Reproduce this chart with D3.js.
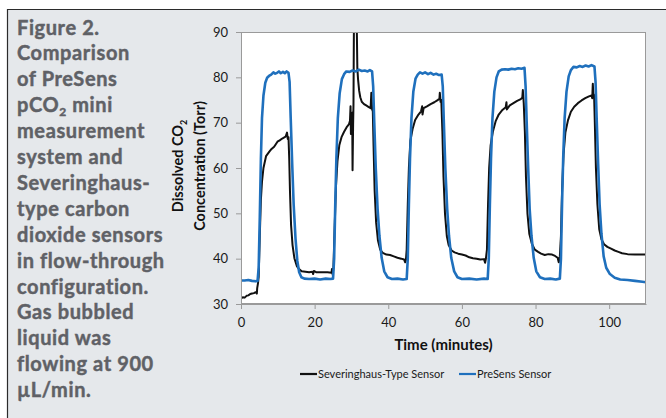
<!DOCTYPE html>
<html>
<head>
<meta charset="utf-8">
<script src="https://cdn.jsdelivr.net/npm/d3@7"></script>
<style>
  html, body { margin: 0; padding: 0; background: #fff; }
  svg { display: block; }
</style>
</head>
<body>
<svg id="chart" width="666" height="418"></svg>
<script>
// Values: [time (min), CO2 (Torr)]
const severinghaus = [
  [0,31.2],[0.5,31.5],[1,31.4],[1.5,31.8],[2,31.9],[2.5,32.2],[3,32.3],[3.5,32.4],[4,32.6],[4.3,32.3],[4.4,33.5],[4.6,34.5],
  [4.8,36],[5.1,45],[5.4,53],[5.7,57],[6.1,60],[6.8,62.6],[7.7,63.6],[8.3,64.2],[9,64.7],[9.9,65.8],[10.5,66.1],[11.2,66.5],[12.1,66.9],[12.5,67.8],[12.7,66.4],[12.9,66.8],
  [13.1,62],[13.3,55],[13.6,47.4],[14,43],[14.5,40.1],[15.2,38.3],[15.9,37.6],[16.5,37.2],[17.5,37.1],[18.5,37.0],[19.4,37.1],[19.6,36.6],[19.8,37.3],[20.5,37.0],[22,37.0],[23.5,37.0],[24.6,36.9],[24.7,37.7],[24.9,36.5],
  [25.1,38],[25.4,46],[25.8,56],[26.2,61.5],[26.7,65],[27.3,66.8],[28,68],[28.7,69],[29.3,69.6],[29.6,70.4],[29.75,73.6],[29.85,67.5],[30.0,70],[30.2,72.2],[30.3,59.5],[30.45,69.5],[30.55,74],[30.7,96],[31.0,99],[31.35,97],[31.6,82],[31.8,79.5],
  [32.1,77],[32.4,75.6],[32.8,74.6],[33.4,74.1],[34,73.8],[34.6,73.5],[35.2,73.2],[35.4,76.6],[35.6,73],[35.8,72.5],
  [36.0,65],[36.3,55],[36.7,48],[37.2,44],[37.8,42],[38.5,41.3],[39.5,40.9],[40.5,40.8],[41.5,40.5],[42.5,40.2],[43.5,40.0],[44.3,39.8],[44.6,39.2],[44.8,39.8],
  [45.0,42],[45.3,52],[45.6,60],[46.0,66],[46.6,68.6],[47.3,70.6],[48.2,71.8],[48.9,72.5],[49.2,73.6],[49.3,71.8],[49.6,73.2],[50.5,73.6],[51.5,74.1],[52.5,74.5],[53.3,74.9],[53.9,75.3],[54.0,76.6],[54.2,74.6],[54.4,75],
  [54.7,68],[55.0,58],[55.4,50],[55.9,45],[56.4,43],[57.2,41.8],[58,41.4],[59,41.1],[60,40.9],[61,40.7],[62,40.3],[63,40.1],[64,40.0],[65,39.8],[66,39.9],[66.3,39.1],[66.5,39.9],
  [66.8,42],[67.1,52],[67.4,60],[67.8,65],[68.4,68],[69.2,70.4],[70,71.8],[71,72.8],[71.9,73.4],[72.1,74.5],[72.2,72.9],[73,73.8],[74,74.3],[75,74.8],[76,75.2],[76.4,75.5],[76.55,77.2],[76.8,74.2],
  [77.1,68],[77.4,58],[77.8,50],[78.3,45.5],[79,43.3],[79.8,42],[80.7,41.5],[81.5,41.1],[82.5,40.8],[83.5,41.0],[84.5,40.9],[85.3,40.6],[86.0,40.2],[86.3,39.2],[86.6,40.5],
  [86.9,45],[87.2,55],[87.6,63],[88.1,67.8],[88.8,70.5],[89.6,72.4],[90.5,73.5],[91.5,74.3],[92.5,74.9],[93.5,75.4],[94.5,75.8],[95.2,76.0],[95.4,75.4],[95.55,78.6],[95.7,76.4],[95.9,76.1],
  [96.1,70],[96.4,60],[96.8,52],[97.3,46.5],[97.9,44.3],[98.6,43.2],[99.5,42.6],[100.5,42.2],[101.5,41.8],[102.5,41.5],[103.5,41.2],[105,41.0],[107,40.9],[109,40.9],[110,40.9]
];

const presens = [
  [0,35.2],[1,35.2],[2,35.3],[3,35.1],[4,35.0],[4.5,35.1],
  [4.8,38],[5.1,49],[5.4,62],[5.7,71],[6.1,76],[6.6,78.8],[7.1,79.9],[7.6,80.3],[8.2,80.6],[8.8,81.1],[9.3,80.8],[9.8,81.0],[10.3,81.3],[10.8,80.9],[11.4,81.2],[11.9,80.9],[12.4,81.3],[12.9,81.0],
  [13.2,79],[13.5,71],[13.9,61],[14.3,52],[14.8,44.5],[15.3,39.5],[15.8,37.0],[16.4,35.9],[17.2,35.6],[18.5,35.5],[20,35.6],[21.5,35.4],[23,35.6],[24.3,35.5],[25.0,35.6],
  [25.3,40],[25.6,52],[25.9,62],[26.3,71],[26.8,76.5],[27.4,79.6],[28.0,80.7],[28.6,81.3],[29.5,81.2],[30.3,81.5],[31.2,81.3],[32,81.7],[32.8,81.4],[33.6,81.5],[34.4,81.3],[35.0,81.6],[35.6,81.3],
  [35.9,78],[36.2,70],[36.6,60],[37.1,51],[37.6,45],[38.2,40.2],[38.9,37.2],[39.8,35.9],[41,35.5],[42.5,35.6],[44,35.4],[45.0,35.5],
  [45.3,40],[45.6,52],[45.9,62],[46.3,71],[46.8,76.8],[47.4,79.7],[48.0,80.6],[48.6,81.1],[49.3,80.8],[50,81.1],[50.8,80.7],[51.5,81.0],[52.3,80.6],[53,80.8],[53.8,80.5],[54.5,80.6],
  [54.8,78],[55.1,70],[55.5,60],[56.0,51],[56.5,45],[57.1,40.2],[57.9,37.2],[58.8,35.9],[60,35.5],[62,35.6],[64,35.4],[66,35.6],[67.0,35.5],
  [67.3,40],[67.6,52],[67.9,62],[68.3,71],[68.8,76.8],[69.4,80.0],[70.0,81.3],[70.8,81.7],[71.7,81.8],[72.6,81.7],[73.5,81.9],[74.4,81.8],[75.3,82.0],[76.2,81.9],[77.0,82.1],
  [77.3,78],[77.6,70],[78,60],[78.4,51],[78.9,45],[79.5,40.2],[80.2,37.2],[81.2,35.9],[82.5,35.5],[84,35.6],[85.5,35.4],[86.6,35.6],
  [86.9,40],[87.2,52],[87.5,62],[87.9,71],[88.4,76.8],[89.0,80.2],[89.6,81.6],[90.3,82.3],[91.2,82.2],[92,82.5],[92.8,82.3],[93.6,82.6],[94.4,82.4],[95.2,82.7],[96.0,82.4],
  [96.3,79],[96.6,71],[97,61],[97.4,52],[97.9,45.5],[98.5,40.5],[99.2,38],[100.2,36.6],[101.5,35.8],[103,35.4],[105,35.3],[107,35.1],[109,34.9],[110,34.8]
];

const xTicks = [0, 20, 40, 60, 80, 100];
const yTicks = [30, 40, 50, 60, 70, 80, 90];
const seriesNames = ["Severinghaus-Type Sensor", "PreSens Sensor"];
const seriesColors = ["#111111", "#1f70bd"];

// caption lines, "_2" marks a subscript 2
const caption = [
  "Figure 2.", "Comparison", "of PreSens", "pCO_2 mini", "measurement", "system and",
  "Severinghaus-", "type carbon", "dioxide sensors", "in flow-through",
  "configuration.", "Gas bubbled", "liquid was", "flowing at 900", "µL/min."
];

const svg = d3.select("#chart");
const W = 666, H = 418;
const plot = {left: 241, right: 646, top: 32, bottom: 304};

// figure panel background + borders
svg.append("rect").attr("x", 7).attr("y", 9).attr("width", W - 7).attr("height", H - 9).attr("fill", "#e5e8eb");
svg.append("line").attr("x1", 7).attr("x2", W).attr("y1", 9.5).attr("y2", 9.5).attr("stroke", "#2b2b2b").attr("stroke-width", 1.2);
svg.append("line").attr("x1", 7.5).attr("x2", 7.5).attr("y1", 9).attr("y2", H).attr("stroke", "#2b2b2b").attr("stroke-width", 1.2);

// caption text (stroke thickens it a bit, the original face is heavier)
const cap = svg.append("text")
  .attr("font-family", "Lato, 'Open Sans', sans-serif")
  .attr("font-weight", 700)
  .attr("font-size", 20)
  .attr("letter-spacing", 0.6)
  .attr("fill", "#5f6166")
  .attr("stroke", "#5f6166")
  .attr("stroke-width", 0.45);
caption.forEach((line, i) => {
  const t = cap.append("tspan").attr("x", 17).attr("y", 34.5 + i * 25.9);
  const parts = line.split("_2");
  if (parts.length > 1) {
    t.text(parts[0]);
    cap.append("tspan").attr("dy", 4).attr("font-size", 12).text("2");
    cap.append("tspan").attr("dy", -4).text(parts[1]);
  } else {
    t.text(line);
  }
});

// plot area
svg.append("rect")
  .attr("x", plot.left).attr("y", plot.top)
  .attr("width", plot.right - plot.left).attr("height", plot.bottom - plot.top)
  .attr("fill", "#fff");

const x = d3.scaleLinear().domain([0, 110]).range([plot.left, plot.right]);
const y = d3.scaleLinear().domain([30, 90]).range([plot.bottom, plot.top]);

svg.append("clipPath").attr("id", "clip")
  .append("rect")
  .attr("x", plot.left).attr("y", plot.top)
  .attr("width", plot.right - plot.left).attr("height", plot.bottom - plot.top);

const line = d3.line().x(d => x(d[0])).y(d => y(d[1]));

const g = svg.append("g").attr("clip-path", "url(#clip)");
g.append("path").datum(severinghaus)
  .attr("d", line).attr("fill", "none")
  .attr("stroke", seriesColors[0]).attr("stroke-width", 2).attr("stroke-linejoin", "round");
g.append("path").datum(presens)
  .attr("d", line).attr("fill", "none")
  .attr("stroke", seriesColors[1]).attr("stroke-width", 2.6).attr("stroke-linejoin", "round");

// frame
svg.append("rect")
  .attr("x", plot.left + 0.5).attr("y", plot.top + 0.5)
  .attr("width", plot.right - plot.left - 1).attr("height", plot.bottom - plot.top - 1)
  .attr("fill", "none").attr("stroke", "#9a9a9a");

// axes
const yAxis = svg.append("g")
  .attr("transform", `translate(${plot.left},0)`)
  .call(d3.axisLeft(y).tickValues(yTicks).tickSize(5).tickSizeOuter(0).tickPadding(8));
const xAxis = svg.append("g")
  .attr("transform", `translate(0,${plot.bottom})`)
  .call(d3.axisBottom(x).tickValues(xTicks).tickSize(5).tickSizeOuter(0).tickPadding(9));

[yAxis, xAxis].forEach(a => {
  a.select(".domain").attr("stroke", "#9a9a9a");
  a.selectAll(".tick line").attr("stroke", "#9a9a9a");
  a.selectAll(".tick text")
    .attr("font-family", "Lato, 'Open Sans', sans-serif")
    .attr("font-size", 13)
    .attr("fill", "#1a1a1a");
});

// axis titles
svg.append("text")
  .attr("x", (plot.left + plot.right) / 2).attr("y", 350)
  .attr("text-anchor", "middle")
  .attr("font-family", "Lato, 'Open Sans', sans-serif")
  .attr("font-weight", 700).attr("font-size", 15)
  .attr("fill", "#111")
  .text("Time (minutes)");

const yt = svg.append("text")
  .attr("transform", "translate(183,166) rotate(-90)")
  .attr("text-anchor", "middle")
  .attr("font-family", "Lato, 'Open Sans', sans-serif")
  .attr("font-weight", 700).attr("font-size", 14.5)
  .attr("fill", "#111");
yt.append("tspan").attr("x", 0).attr("y", 0).text("Dissolved CO");
yt.append("tspan").attr("dy", 4).attr("font-size", 9).text("2");
svg.append("text")
  .attr("transform", "translate(205,166) rotate(-90)")
  .attr("text-anchor", "middle")
  .attr("font-family", "Lato, 'Open Sans', sans-serif")
  .attr("font-weight", 700).attr("font-size", 14.5)
  .attr("fill", "#111")
  .text("Concentration (Torr)");

// legend
const legendX = [300, 459];
seriesNames.forEach((name, i) => {
  svg.append("line")
    .attr("x1", legendX[i]).attr("x2", legendX[i] + 17)
    .attr("y1", 374).attr("y2", 374)
    .attr("stroke", seriesColors[i]).attr("stroke-width", 2.2);
  svg.append("text")
    .attr("x", legendX[i] + 18).attr("y", 378)
    .attr("font-family", "Lato, 'Open Sans', sans-serif")
    .attr("font-size", 11)
    .attr("fill", "#1a1a1a")
    .text(name);
});
</script>
</body>
</html>
